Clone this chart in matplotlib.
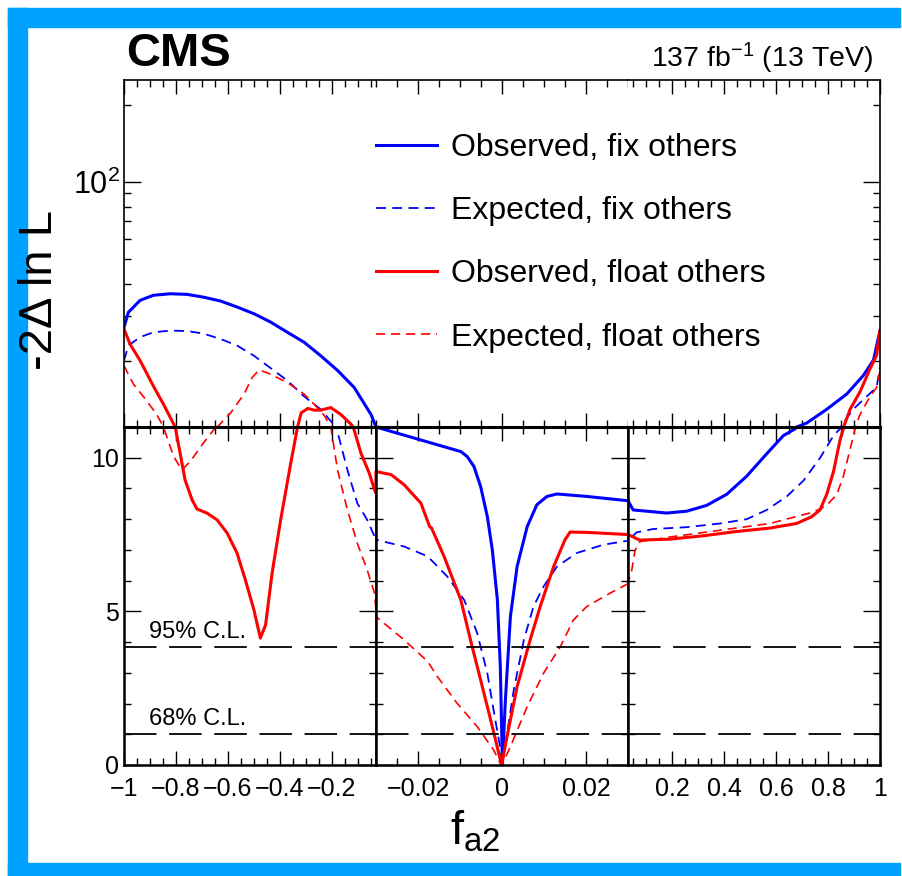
import matplotlib
matplotlib.use('Agg')
import matplotlib.pyplot as plt
from matplotlib.patches import Rectangle
from matplotlib.ticker import FixedLocator, MultipleLocator, NullFormatter

plt.rcParams['font.family'] = ['Liberation Sans', 'DejaVu Sans']
plt.rcParams['mathtext.fontset'] = 'custom'
plt.rcParams['mathtext.rm'] = 'Liberation Sans'
plt.rcParams['mathtext.it'] = 'Liberation Sans:italic'
plt.rcParams['mathtext.bf'] = 'Liberation Sans:bold'

# -2 Delta ln L scans vs f_a2
obs_fix_x = [-1, -0.983, -0.938, -0.887, -0.822, -0.758, -0.694, -0.629, -0.565, -0.5, -0.436, -0.371,
             -0.307, -0.243, -0.178, -0.114, -0.049, -0.03,
             -0.0098, -0.0083, -0.0067, -0.0051, -0.0035, -0.0023, -0.0011, -0.0004, 0.0001, 0.0008, 0.002,
             0.0036, 0.006, 0.0083, 0.0107, 0.0131, 0.0202, 0.03,
             0.05, 0.179, 0.256, 0.333, 0.41, 0.487, 0.564, 0.628, 0.673, 0.718, 0.795, 0.872, 0.936, 0.975, 1.0]
obs_fix_y = [27.0, 30.9, 34.4, 36.0, 36.5, 36.3, 35.4, 34.2, 32.4, 30.5, 28.3, 25.8,
             23.6, 20.9, 18.3, 15.7, 12.3, 11.0,
             10.2, 10.04, 9.72, 9.07, 8.09, 7.0, 5.37, 3.2, 0.0, 2.1, 4.83,
             6.46, 7.76, 8.47, 8.74, 8.82, 8.74, 8.6,
             8.3, 8.2, 8.26, 8.45, 8.81, 9.40, 10.13, 10.72, 10.94, 11.4, 12.9, 14.8, 17.5, 20.1, 26.2]

exp_fix_x = [-1, -0.983, -0.938, -0.887, -0.822, -0.758, -0.694, -0.629, -0.565, -0.5, -0.436, -0.371,
             -0.307, -0.243, -0.204, -0.185, -0.18, -0.14, -0.102, -0.064, -0.03,
             -0.0233, -0.0177, -0.013, -0.009, -0.0059, -0.0035, -0.0016, -0.0002, 0.0, 0.0012, 0.0028,
             0.0052, 0.0075, 0.0099, 0.0131, 0.0178, 0.0242, 0.03,
             0.063, 0.127, 0.256, 0.384, 0.487, 0.564, 0.641, 0.705, 0.769, 0.821, 0.846, 0.897, 0.949,
             0.987, 1.0]
exp_fix_y = [20.0, 22.9, 24.7, 25.8, 26.2, 26.1, 25.5, 24.3, 22.9, 20.9, 18.7, 16.7,
             14.5, 12.9, 11.6, 11.0, 10.9, 9.6, 8.52, 7.98, 7.33,
             7.11, 6.79, 6.13, 5.37, 4.29, 2.99, 1.47, 0.38, 0.0, 1.03, 2.44,
             4.07, 5.16, 5.81, 6.46, 6.9, 7.17, 7.3,
             7.57, 7.68, 7.74, 7.86, 8.0, 8.3, 8.74, 9.25, 9.99, 10.72, 10.94, 12.9, 14.5,
             15.7, 18.9]

obs_float_x = [-1, -0.977, -0.938, -0.887, -0.848, -0.803, -0.784, -0.765, -0.738, -0.719, -0.681, -0.642,
               -0.603, -0.565, -0.533, -0.5, -0.475, -0.455, -0.43, -0.397, -0.358, -0.332, -0.318,
               -0.292, -0.267, -0.243, -0.204, -0.165, -0.127, -0.114, -0.088, -0.056, -0.036, -0.0305,
               -0.03, -0.0264, -0.0233, -0.0193, -0.0172, -0.0168, -0.0138, -0.0098, -0.0075, -0.0051,
               -0.0027, -0.0001, 0.0012, 0.0036, 0.0067, 0.0091, 0.0123, 0.015, 0.0162, 0.0202, 0.03,
               0.075, 0.191, 0.32, 0.448, 0.576, 0.679, 0.737, 0.769, 0.795, 0.821, 0.846, 0.859, 0.885,
               0.923, 0.962, 0.987, 1.0]
obs_float_y = [26.6, 23.2, 20.0, 15.9, 13.5, 11.0, 10.15, 9.28, 8.63, 8.33, 8.2, 7.98,
               7.55, 6.9, 6.03, 5.05, 4.13, 4.56, 6.24, 7.98, 9.83, 11.0, 12.5,
               13.0, 12.8, 12.8, 13.1, 12.3, 11.3, 10.9, 10.15, 9.5, 8.96, 8.85,
               9.55, 9.45, 9.12, 8.52, 7.75, 7.72, 6.79, 5.37, 4.07, 2.77,
               1.47, 0.0, 0.92, 2.55, 4.07, 5.16, 6.46, 7.33, 7.58, 7.57, 7.5,
               7.32, 7.35, 7.46, 7.6, 7.71, 7.86, 8.08, 8.3, 8.81, 9.55, 10.57, 10.94, 12.9,
               15.1, 18.6, 21.0, 26.2]

exp_float_x = [-1, -0.964, -0.912, -0.874, -0.848, -0.809, -0.777, -0.745, -0.694, -0.649, -0.641,
               -0.589, -0.538, -0.506, -0.48, -0.436, -0.371, -0.307, -0.268, -0.229, -0.204, -0.178,
               -0.14, -0.102, -0.064, -0.036, -0.0302,
               -0.03, -0.0233, -0.0177, -0.0154, -0.0107, -0.0059, -0.002, -0.0004, 0.0, 0.002, 0.006,
               0.0099, 0.0139, 0.017, 0.0202, 0.0257, 0.03,
               0.044, 0.057, 0.076, 0.192, 0.384, 0.576, 0.743, 0.795, 0.834, 0.859, 0.885, 0.904,
               0.923, 0.962, 0.987, 1.0]
exp_float_y = [19.1, 16.2, 13.9, 12.3, 11.0, 10.04, 9.6, 9.88, 10.48, 10.97, 11.0,
               12.5, 14.8, 17.2, 18.4, 17.7, 16.4, 14.8, 13.5, 12.2, 11.0, 9.6,
               8.3, 7.22, 6.35, 5.6, 5.05,
               4.83, 4.07, 3.37, 2.88, 2.01, 1.25, 0.49, 0.05, 0.0, 0.6, 1.9,
               2.99, 3.85, 4.72, 5.16, 5.59, 5.9,
               6.32, 6.98, 7.27, 7.42, 7.64, 7.86, 8.23, 8.45, 8.81, 9.4, 10.28, 10.94,
               12.3, 14.5, 15.7, 18.2]

labels = ['Observed, fix others', 'Expected, fix others',
          'Observed, float others', 'Expected, float others']
cl_levels = [3.84, 1.0]
cl_labels = ['95% C.L.', '68% C.L.']

segments = [(-1, -0.03), (-0.03, 0.03), (0.03, 1)]
major_ticks = [[-1, -0.8, -0.6, -0.4, -0.2], [-0.02, 0, 0.02], [0.2, 0.4, 0.6, 0.8, 1]]
tick_labels = [['\u22121', '\u22120.8', '\u22120.6', '\u22120.4', '\u22120.2'],
               ['\u22120.02', '0', '0.02'],
               ['0.2', '0.4', '0.6', '0.8', '1']]
minor_steps = [0.05, 0.005, 0.05]

curves = [
    (obs_fix_x, obs_fix_y, 'blue', '-', 2.2),
    (exp_fix_x, exp_fix_y, 'blue', (0, (5.5, 3.5)), 1.3),
    (obs_float_x, obs_float_y, 'red', '-', 2.2),
    (exp_float_x, exp_float_y, 'red', (0, (5.5, 3.5)), 1.2),
]

W, H = 903, 876
fig = plt.figure(figsize=(W / 100, H / 100), dpi=100)
gs = fig.add_gridspec(2, 3, left=124 / W, right=880 / W, bottom=1 - 765 / H, top=1 - 80 / H,
                      hspace=0, wspace=0, height_ratios=[347, 338])

handles = []
for c in range(3):
    au = fig.add_subplot(gs[0, c])
    al = fig.add_subplot(gs[1, c])
    for ax in (au, al):
        for x, y, col, ls, lw in curves:
            ln, = ax.plot(x, y, color=col, linestyle=ls, linewidth=lw)
            if c == 0 and ax is au:
                handles.append(ln)
        ax.set_xlim(segments[c])
        ax.xaxis.set_major_locator(FixedLocator(major_ticks[c]))
        ax.xaxis.set_minor_locator(MultipleLocator(minor_steps[c]))
        ax.tick_params(which='both', direction='in', top=True, bottom=True, labelsize=18)
        ax.tick_params(which='major', length=10, width=1)
        ax.tick_params(which='minor', length=5, width=1)

    # upper log panel
    au.set_yscale('log')
    au.set_ylim(11, 250)
    au.set_xticklabels([])
    au.yaxis.set_minor_formatter(NullFormatter())
    au.set_yticks([100])
    au.set_yticklabels(['$10^{2}$'] if c == 0 else [''])
    au.tick_params(axis='y', which='both', left=(c == 0), right=(c == 2), labelleft=(c == 0))
    au.tick_params(axis='y', which='major', length=12, labelsize=22, pad=3)
    au.spines['left'].set_visible(c == 0)
    au.spines['right'].set_visible(c == 2)
    au.spines['bottom'].set_visible(False)
    for s in au.spines.values():
        s.set_linewidth(1.2)

    # lower linear panel
    al.set_ylim(0, 11)
    al.set_yticks([0, 5, 10])
    al.yaxis.set_minor_locator(MultipleLocator(1))
    al.tick_params(axis='y', which='both', left=True, right=True, labelleft=(c == 0))
    al.tick_params(axis='y', which='major', length=12)
    al.set_xticklabels(tick_labels[c])
    al.tick_params(axis='x', pad=9)
    for s in al.spines.values():
        s.set_linewidth(1.8)
    al.spines['top'].set_linewidth(2.2)
    for lev in cl_levels:
        al.axhline(lev, color='black', linestyle=(0, (18, 7)), linewidth=1.3)
    if c == 0:
        al.text(-0.903, cl_levels[0] + 0.28, cl_labels[0], fontsize=17)
        al.text(-0.903, cl_levels[1] + 0.3, cl_labels[1], fontsize=17)

fig.legend(handles, labels, loc='upper left', bbox_to_anchor=(376 / W, 1 - 133 / H),
           frameon=False, fontsize=23, handlelength=1.9, handletextpad=0.45,
           labelspacing=1.04, borderpad=0, borderaxespad=0)

fig.text(126 / W, 1 - 66 / H, 'CMS', fontsize=34, fontweight='bold', va='baseline')
fig.text(873 / W, 1 - 67 / H, '137 fb$^{-1}$ (13 TeV)', fontsize=20.5, ha='right', va='baseline')
fig.text(40 / W, 1 - 290 / H, '-2\u0394 ln L', fontsize=34, rotation=90, ha='center', va='center')
fig.text(475 / W, 1 - 832 / H, '$\\mathregular{f_{a2}}$', fontsize=34, ha='center', va='center')

# blue frame around the picture
blue = '#00a2ff'
for (x0, y0, w, h) in [(8, 8, 892, 19), (8, 8, 19, 868), (8, 863, 892, 13)]:
    fig.patches.append(Rectangle((x0 / W, 1 - (y0 + h) / H), w / W, h / H,
                                 transform=fig.transFigure, color=blue, zorder=0))

fig.savefig('out.png', dpi=100)
